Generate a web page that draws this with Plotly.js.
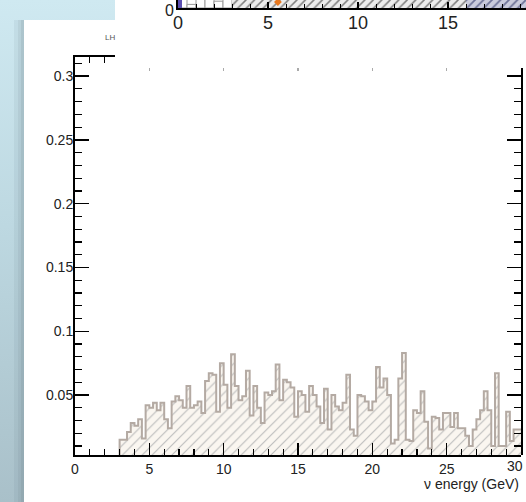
<!DOCTYPE html>
<html>
<head>
<meta charset="utf-8">
<script src="https://cdn.plot.ly/plotly-3.0.1.min.js"></script>
<style>
html,body{margin:0;padding:0;width:526px;height:502px;overflow:hidden;
background:linear-gradient(180deg,#cfe9f1 0%,#bdd8e1 45%,#a9c0c9 100%);}
#chart{width:526px;height:502px;}
</style>
</head>
<body>
<div id="chart"></div>
<script>
// ---- main histogram: neutrino energy (GeV), 0.25 GeV bins from 0 to 30
const energyStart = 0;
const energyBinWidth = 0.25;
const nuEnergyValues = [
  0,0,0,0,0,0,0,0,0,0,0,0,
  0.015,0.015,0.021,0.028,0.026,0.031,0.016,0.042,0.040,0.044,
  0.038,0.044,0.031,0.024,0.045,0.049,0.046,0.040,0.057,0.040,
  0.042,0.045,0.036,0.061,0.067,0.066,0.037,0.075,0.058,0.040,
  0.082,0.057,0.046,0.049,0.069,0.034,0.057,0.040,0.028,0.052,
  0.050,0.053,0.074,0.046,0.062,0.060,0.056,0.033,
  0.053,0.050,0.037,0.057,0.050,0.041,0.028,0.055,0.023,0.050,
  0.041,0.038,0.044,0.066,0.023,0.018,0.050,0.049,0.045,0.038,
  0.045,0.072,0.056,0.063,0.050,0.012,0.015,0.063,0.083,0.015,
  0.014,0.038,0.036,0.053,0.029,0.008,0.033,0.032,0.023,0.036,
  0.036,0.025,0.036,0.024,0.024,0.018,0.010,0.023,0.031,0.038,
  0.053,0.038,0.010,0.067,0.010,0.010,0.037,0.014,0.023,0.023
];
const xTickLabels = ["0","5","10","15","20","25","30"];
const yTickLabels = ["0.05","0.1","0.15","0.2","0.25","0.3"];
const xTitle = "\u03bd energy (GeV)";
const cornerText = "LH";

// ---- partly hidden inset histogram at the top (0.5-unit bins)
const insetBinWidth = 0.5;
const insetPurpleX = [0.1];
const insetPurpleY = [3];
const insetOpenCenters = [0.25,0.75,1.25,1.75,2.25,2.75];
const insetOpenValues = [2.0,0.45,2.0,2.0,0.85,2.0];
const insetHatchCenters = [3.25,3.75,4.25,4.75,5.25,5.75,6.25,6.75,7.25,7.75,8.25,8.75,9.25,9.75,10.25,10.75,11.25,11.75,12.25,12.75,13.25,13.75,14.25,14.75,15.25,15.75];
const insetHatchValues = [1.6,2.2,2.9,3.4,3.8,4.1,4.0,4.3,4.2,4.4,4.1,4.5,4.3,4.0,4.2,3.9,4.1,3.8,3.6,3.9,3.5,3.3,3.6,3.2,3.0,3.1];
const insetDarkCenters = [16.25,16.75,17.25,17.75,18.25,18.75,19.25];
const insetDarkValues = [2.8,3.0,2.7,2.9,2.6,2.8,2.5];
const insetMarkerX = [5.55];
const insetMarkerY = [0.75];
const insetXTickLabels = ["0","5","10","15"];
const insetYTickLabel = "0";

// ---- build
const W = 526, H = 502;
const px = x => x / W;
const py = y => 1 - y / H;

const centers = nuEnergyValues.map((v,i) => energyStart + (i + 0.5) * energyBinWidth);
const edges = nuEnergyValues.map((v,i) => energyStart + i * energyBinWidth);
edges.push(energyStart + nuEnergyValues.length * energyBinWidth);
const stepY = nuEnergyValues.concat([nuEnergyValues[nuEnergyValues.length-1]]);

const FONT = "Liberation Sans, Arial, Helvetica, sans-serif";

const traces = [
  {type:'bar', x:centers, y:nuEnergyValues, width:energyBinWidth, xaxis:'x', yaxis:'y',
   marker:{color:'#faf6f0', line:{width:0},
     pattern:{shape:'/', fgcolor:'#bdbdbd', bgcolor:'#faf6f0', size:7, solidity:0.16}},
   hoverinfo:'skip'},
  {type:'scatter', mode:'lines', x:edges, y:stepY, xaxis:'x', yaxis:'y',
   line:{shape:'hv', color:'#b4aaa3', width:2}, hoverinfo:'skip'},
  {type:'scatter', x:[], y:[], xaxis:'x', yaxis:'y3', hoverinfo:'skip'},
  {type:'scatter', x:[], y:[], xaxis:'x4', yaxis:'y', hoverinfo:'skip'},
  {type:'scatter', x:[], y:[], xaxis:'x5', yaxis:'y', hoverinfo:'skip'},
  // inset
  {type:'bar', x:insetOpenCenters, y:insetOpenValues, width:insetBinWidth, xaxis:'x2', yaxis:'y2',
   marker:{color:'#ffffff', line:{color:'#9a9a9a', width:1}}, hoverinfo:'skip'},
  {type:'bar', x:insetHatchCenters, y:insetHatchValues, width:insetBinWidth, xaxis:'x2', yaxis:'y2',
   marker:{color:'#eeeeee', line:{width:0},
     pattern:{shape:'/', fgcolor:'#7d7d7d', bgcolor:'#ececec', size:6, solidity:0.25}}, hoverinfo:'skip'},
  {type:'bar', x:insetDarkCenters, y:insetDarkValues, width:insetBinWidth, xaxis:'x2', yaxis:'y2',
   marker:{color:'#c9cbdc', line:{width:0},
     pattern:{shape:'/', fgcolor:'#6e7398', bgcolor:'#c9cbdc', size:6, solidity:0.3}}, hoverinfo:'skip'},
  {type:'bar', x:insetPurpleX, y:insetPurpleY, width:0.2, xaxis:'x2', yaxis:'y2',
   marker:{color:'#5b4fb0', line:{width:0}}, hoverinfo:'skip'},
  {type:'scatter', mode:'markers', x:insetMarkerX, y:insetMarkerY, xaxis:'x2', yaxis:'y2',
   marker:{symbol:'diamond', size:6, color:'#e8781e'}, hoverinfo:'skip', cliponaxis:true}
];

const xTickVals = xTickLabels.map(Number);
const yTickVals = yTickLabels.map(Number);
const yTop = 0.315, yBot = 0.003;
const pxPerUnitY = (455 - 57) / (yTop - yBot);
const pxPerUnitX = (521 - 75) / 30;

const annotations = [
  {xref:'paper', yref:'paper', x:px(521), y:py(484), xanchor:'right', yanchor:'middle',
   text:xTitle, showarrow:false, font:{size:14, color:'#222', family:FONT}},
  {xref:'paper', yref:'paper', x:px(103), y:py(37), xanchor:'left', yanchor:'middle',
   text:cornerText, showarrow:false, font:{size:8, color:'#555', family:FONT}},
  // last x tick label, kept inside the picture
  {xref:'paper', yref:'paper', x:px(525), y:py(466), xanchor:'right', yanchor:'middle',
   text:xTickLabels[xTickLabels.length-1], showarrow:false, font:{size:14, color:'#222', family:FONT}},
  // inset y label
  {xref:'paper', yref:'paper', x:px(176), y:1, xanchor:'right', yanchor:'top',
   text:insetYTickLabel, showarrow:false, font:{size:16, color:'#222', family:FONT}}
];

const layout = {
  width: W, height: H,
  margin:{l:0,r:0,t:0,b:0,pad:0},
  paper_bgcolor:'rgba(0,0,0,0)',
  plot_bgcolor:'rgba(0,0,0,0)',
  showlegend:false,
  bargap:0,
  barmode:'overlay',
  font:{family:FONT, color:'#222', size:14},
  xaxis:{domain:[px(75), px(521)], range:[0,30], anchor:'y',
    showline:true, linewidth:2, linecolor:'#000', mirror:false,
    ticks:'inside', ticklen:12, tickwidth:1.5, tickcolor:'#000',
    tickvals:xTickVals.slice(0,-1), ticktext:xTickLabels.slice(0,-1),
    minor:{dtick:1, tick0:0, ticks:'inside', ticklen:6, tickwidth:1.2, tickcolor:'#000'},
    showgrid:false, zeroline:false, tickfont:{size:14, color:'#222'}, fixedrange:true},
  yaxis:{domain:[py(455), py(57)], range:[yBot, yTop], anchor:'x',
    showline:true, linewidth:2, linecolor:'#000',
    ticks:'inside', ticklen:14, tickwidth:1.5, tickcolor:'#000',
    tickvals:yTickVals, ticktext:yTickLabels, ticklabelstandoff:-3,
    minor:{dtick:0.01, tick0:0, ticks:'inside', ticklen:7, tickwidth:1.2, tickcolor:'#000'},
    showgrid:false, zeroline:false, tickfont:{size:14, color:'#222'}, fixedrange:true},
  yaxis3:{domain:[py(455), py(68)], range:[yBot, yBot + (455-68)/pxPerUnitY], anchor:'x', side:'right',
    showline:true, linewidth:2, linecolor:'#000',
    ticks:'inside', ticklen:14, tickwidth:1.5, tickcolor:'#000',
    tickvals:yTickVals, showticklabels:false,
    minor:{dtick:0.01, tick0:0, ticks:'inside', ticklen:7, tickwidth:1.2, tickcolor:'#000'},
    showgrid:false, zeroline:false, fixedrange:true},
  xaxis4:{domain:[px(75), px(115)], range:[0, (115-75)/pxPerUnitX], anchor:'y', side:'top',
    showline:true, linewidth:2, linecolor:'#000',
    ticks:'inside', ticklen:12, tickwidth:1.5, tickcolor:'#000', tickvals:[0], showticklabels:false,
    minor:{dtick:1, tick0:0, ticks:'inside', ticklen:6, tickwidth:1.2, tickcolor:'#000'},
    showgrid:false, zeroline:false, fixedrange:true},
  xaxis5:{domain:[px(75), px(521)], range:[0,30], anchor:'free', position:py(67), side:'top',
    showline:false, ticks:'inside', ticklen:3, tickwidth:1.2, tickcolor:'#aaa',
    tickvals:[5,10,15,20,25], showticklabels:false, showgrid:false, zeroline:false, fixedrange:true},
  xaxis2:{domain:[px(178), 1], range:[0, (526-178)/18], anchor:'y2',
    showline:true, linewidth:2, linecolor:'#000',
    ticks:'inside', ticklen:6, tickwidth:1.2, tickcolor:'#000',
    tickvals:insetXTickLabels.map(Number), ticktext:insetXTickLabels, ticklabelstandoff:-3,
    minor:{dtick:1, tick0:0, ticks:'inside', ticklen:4, tickwidth:1, tickcolor:'#000'},
    showgrid:false, zeroline:false, tickfont:{size:18, color:'#222'}, fixedrange:true},
  yaxis2:{domain:[py(8), 1], range:[0,1], anchor:'x2',
    showline:true, linewidth:2, linecolor:'#000', ticks:'', showticklabels:false,
    showgrid:false, zeroline:false, fixedrange:true},
  shapes:[
    {type:'rect', xref:'paper', yref:'paper', layer:'below', x0:px(14), x1:px(18), y0:0, y1:py(20),
     fillcolor:'rgba(80,100,110,0.08)', line:{width:0}},
    {type:'rect', xref:'paper', yref:'paper', layer:'below', x0:px(18), x1:px(21), y0:0, y1:py(20),
     fillcolor:'rgba(80,100,110,0.16)', line:{width:0}},
    {type:'rect', xref:'paper', yref:'paper', layer:'below', x0:px(21), x1:px(24), y0:0, y1:py(20),
     fillcolor:'rgba(80,100,110,0.26)', line:{width:0}},
    {type:'rect', xref:'paper', yref:'paper', layer:'below', x0:px(24), x1:1, y0:0, y1:py(20),
     fillcolor:'#ffffff', line:{width:0}},
    {type:'rect', xref:'paper', yref:'paper', layer:'below', x0:px(115), x1:1, y0:py(67), y1:1,
     fillcolor:'#ffffff', line:{width:0}}
  ],
  annotations: annotations
};

Plotly.newPlot('chart', traces, layout, {staticPlot:true, displayModeBar:false});
</script>
</body>
</html>
